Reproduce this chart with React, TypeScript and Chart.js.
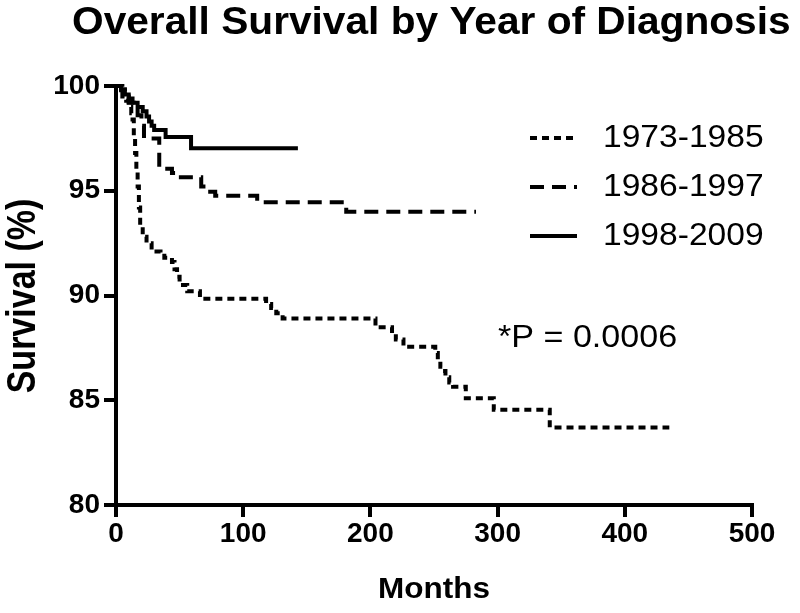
import React, { useEffect, useRef } from "react";
import { Chart, registerables } from "chart.js";

Chart.register(...registerables);

const TITLE = "Overall Survival by Year of Diagnosis";
const X_TITLE = "Months";
const Y_TITLE = "Survival (%)";
const P_TEXT = "*P = 0.0006";
const SERIES_LABELS = ["1973-1985", "1986-1997", "1998-2009"];

const X_TICKS = [0, 100, 200, 300, 400, 500];
const Y_TICKS = [80, 85, 90, 95, 100];

const months1973 = [0, 5, 8, 10, 12, 13, 14, 15, 16, 17, 18, 19, 21, 24, 28, 35, 38, 44, 46, 48, 50, 56, 66, 118, 122, 126, 131, 204, 217, 220, 226, 251, 253, 255, 257, 259, 262, 265, 275, 297, 341, 435];
const surv1973 = [100, 99.5, 99.3, 99.0, 98.7, 98.4, 97.6, 96.8, 96.0, 95.2, 94.2, 93.3, 92.8, 92.5, 92.1, 92.0, 91.8, 91.6, 91.25, 90.9, 90.5, 90.2, 89.85, 89.6, 89.4, 89.15, 88.9, 88.48, 88.2, 87.9, 87.55, 87.25, 86.9, 86.6, 86.4, 86.1, 85.85, 85.65, 85.1, 84.55, 83.7, 83.7];

const months1986 = [0, 4, 7, 10, 14, 17, 20, 22, 34, 44, 48, 67, 72, 78, 111, 181, 283];
const surv1986 = [100, 99.8, 99.5, 99.2, 98.9, 98.6, 98.1, 97.5, 96.05, 95.85, 95.65, 95.2, 94.95, 94.76, 94.45, 94.0, 94.0];

const months1998 = [0, 4, 7, 10, 13, 17, 21, 24, 26, 28, 30, 39, 59, 143];
const surv1998 = [100, 99.85, 99.6, 99.4, 99.2, 99.0, 98.8, 98.55, 98.3, 98.1, 97.9, 97.56, 97.03, 97.03];

const BOLD_FONT = '"Liberation Sans", Arial, sans-serif';
const REG_FONT = '"Liberation Sans", Arial, sans-serif';

const DASHES = [[7, 5], [14, 8], []];

const toPoints = (xs: number[], ys: number[]) => xs.map((x, i) => ({ x, y: ys[i] }));

function stretchedText(ctx: any, text: string, x: number, y: number, sx: number, sy: number) {
  ctx.save();
  ctx.translate(x, y);
  ctx.scale(sx, sy);
  ctx.fillText(text, 0, 0);
  ctx.restore();
}

const overlayPlugin = {
  id: "overlay",
  afterDraw(chart: any) {
    const { ctx, chartArea: ca } = chart;
    ctx.save();
    ctx.fillStyle = "#000";
    ctx.strokeStyle = "#000";
    // title
    ctx.textAlign = "left";
    ctx.textBaseline = "alphabetic";
    ctx.font = `bold 38px ${BOLD_FONT}`;
    stretchedText(ctx, TITLE, 72, 34, 1.07, 1);
    // x title
    ctx.textAlign = "center";
    ctx.font = `bold 30px ${BOLD_FONT}`;
    stretchedText(ctx, X_TITLE, (ca.left + ca.right) / 2, 598, 1.05, 1.0);
    // y title (rotated)
    ctx.save();
    ctx.translate(35, 296);
    ctx.rotate(-Math.PI / 2);
    ctx.textAlign = "center";
    ctx.textBaseline = "alphabetic";
    ctx.font = `bold 34px ${BOLD_FONT}`;
    ctx.scale(1, 1.22);
    ctx.fillText(Y_TITLE, 0, 0);
    ctx.restore();
    // legend
    const ys = [138, 187, 236];
    ctx.font = `32px ${REG_FONT}`;
    ctx.textAlign = "left";
    ctx.textBaseline = "middle";
    SERIES_LABELS.forEach((lab, i) => {
      ctx.save();
      ctx.lineWidth = 4;
      ctx.setLineDash(DASHES[i]);
      ctx.beginPath();
      ctx.moveTo(530, ys[i]);
      ctx.lineTo(577, ys[i]);
      ctx.stroke();
      ctx.restore();
      stretchedText(ctx, lab, 603, ys[i], 1.05, 1);
    });
    ctx.font = `31px ${REG_FONT}`;
    stretchedText(ctx, P_TEXT, 498, 338, 1.1, 1);
    ctx.restore();
  },
};

export default function App() {
  const ref = useRef<HTMLCanvasElement | null>(null);
  useEffect(() => {
    document.body.style.margin = "0";
    const canvas = ref.current!;
    const series = [
      toPoints(months1973, surv1973),
      toPoints(months1986, surv1986),
      toPoints(months1998, surv1998),
    ];
    const chart = new Chart(canvas, {
      type: "line",
      data: {
        datasets: series.map((pts, i) => ({
          label: SERIES_LABELS[i],
          data: pts,
          stepped: true,
          borderColor: "#000",
          borderWidth: 4,
          borderDash: DASHES[i],
          pointRadius: 0,
          fill: false,
          clip: 10,
        })),
      },
      options: {
        animation: false,
        responsive: false,
        devicePixelRatio: 1,
        layout: { padding: { top: 86, right: 48, left: 0, bottom: 0 } },
        plugins: { legend: { display: false }, title: { display: false }, tooltip: { enabled: false } },
        scales: {
          x: {
            type: "linear",
            min: 0,
            max: 500,
            afterBuildTicks: (s: any) => {
              s.ticks = X_TICKS.map((v) => ({ value: v }));
            },
            afterFit: (s: any) => {
              s.height = 108;
            },
            ticks: { color: "#000", font: { family: BOLD_FONT, size: 28, weight: "bold" }, maxRotation: 0, padding: 0 },
            grid: { display: true, drawOnChartArea: false, drawTicks: true, tickLength: 12, lineWidth: 4, color: "#000" },
            border: { display: true, width: 4, color: "#000" },
          },
          y: {
            type: "linear",
            min: 80,
            max: 100,
            afterBuildTicks: (s: any) => {
              s.ticks = Y_TICKS.map((v) => ({ value: v }));
            },
            afterFit: (s: any) => {
              s.width = 116;
            },
            ticks: { color: "#000", font: { family: BOLD_FONT, size: 28, weight: "bold" }, padding: 4 },
            grid: { display: true, drawOnChartArea: false, drawTicks: true, tickLength: 12, lineWidth: 4, color: "#000" },
            border: { display: true, width: 4, color: "#000" },
          },
        },
      },
      plugins: [overlayPlugin],
    } as any);
    return () => chart.destroy();
  }, []);
  return (
    <div style={{ width: 800, height: 613 }}>
      <canvas ref={ref} width={800} height={613} />
    </div>
  );
}
